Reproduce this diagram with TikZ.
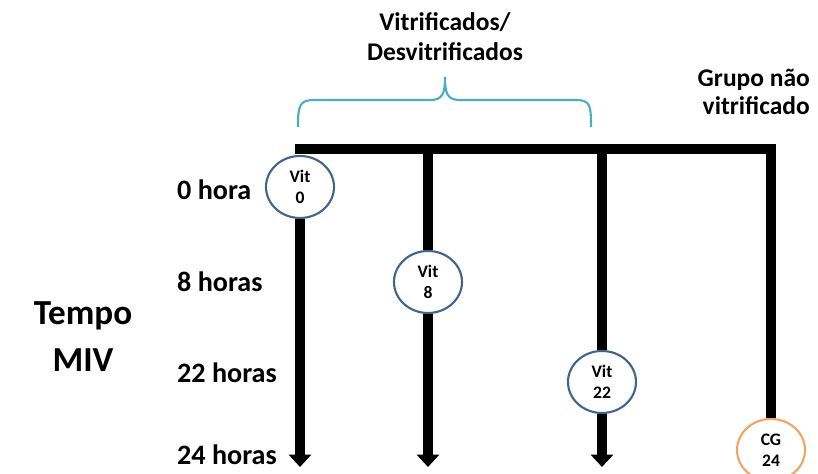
\documentclass[tikz,border=0pt]{standalone}
\usepackage{fontspec}
\setmainfont{Carlito}
\usetikzlibrary{arrows.meta,shapes.geometric}
\definecolor{vitblue}{HTML}{41648C}
\definecolor{cgorange}{HTML}{F2A365}
\definecolor{bracecyan}{HTML}{4BACC6}

\begin{document}
\begin{tikzpicture}[
    bar/.style={line width=5.7pt, line join=miter},
    timearrow/.style={bar, -{Triangle[width=12.5pt,length=7pt]}},
    sample/.style={ellipse, draw=vitblue, line width=1.2pt, fill=white, minimum width=1.36cm, minimum height=1.24cm, inner sep=0pt, align=center, font=\fontsize{10}{12}\selectfont\bfseries},
    hourlabel/.style={anchor=west, font=\fontsize{16}{19}\selectfont\bfseries}
  ]
        \useasboundingbox (0,0) rectangle (16.36,9.48);

        % Bar and branch points
        \coordinate (b0) at (5.9,6.5);
        \coordinate (c2top) at (8.56,6.5);
        \coordinate (c3top) at (12.04,6.5);
        \coordinate (c1end) at (6.0,0.14);
        \coordinate (c2end) at (8.56,0.14);
        \coordinate (c3end) at (12.04,0.14);

        % Samples
        \node[sample] (vit0) at (6.0,5.74) {Vit\\0};
        \node[sample] (vit8) at (8.56,3.84) {Vit\\8};
        \node[sample] (vit22) at (12.04,1.84) {Vit\\22};
        \node[sample, draw=cgorange] (cg24) at (15.42,0.48) {CG\\24};

        % Draw the bar and the time lines
        \draw[bar] (b0) -| (cg24);
        \draw[timearrow] (vit0) -- (c1end);
        \draw[bar] (c2top) -- (vit8);
        \draw[timearrow] (vit8) -- (c2end);
        \draw[bar] (c3top) -- (vit22);
        \draw[timearrow] (vit22) -- (c3end);

        % Brace over the vitrified groups
        \draw[bracecyan, line width=1.2pt] (5.96,6.94) .. controls (5.96,7.4) and (6.0,7.48) .. (6.3,7.48) -- (8.6,7.48)
          .. controls (8.85,7.48) and (8.9,7.6) .. (8.9,7.94) .. controls (8.9,7.6) and (8.95,7.48) .. (9.2,7.48) -- (11.5,7.48)
          .. controls (11.8,7.48) and (11.82,7.4) .. (11.82,6.94);

        % Group titles
        \node[align=center, font=\fontsize{14.5}{17}\selectfont\bfseries] (vitgroup) at (8.9,8.74) {Vitrificados/\\Desvitrificados};
        \node[anchor=east, align=right, font=\fontsize{14.5}{16}\selectfont\bfseries] (cggroup) at (16.32,7.64) {Grupo não\\vitrificado};

        % Time labels
        \node[hourlabel] (h0) at (3.42,5.68) {0 hora};
        \node[hourlabel] (h8) at (3.42,3.84) {8 horas};
        \node[hourlabel] (h22) at (3.42,2.02) {22 horas};
        \node[hourlabel] (h24) at (3.42,0.38) {24 horas};
        \node[align=center, font=\fontsize{20}{27}\selectfont\bfseries] (tempo) at (1.66,2.75) {Tempo\\MIV};
      \end{tikzpicture}
\end{document}
